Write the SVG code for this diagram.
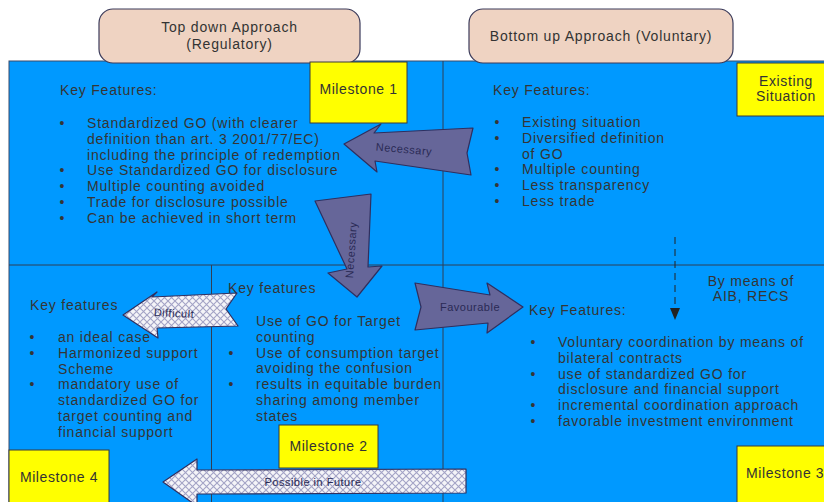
<svg xmlns="http://www.w3.org/2000/svg" width="824" height="502" viewBox="0 0 824 502">
<style>
.t{font-family:"Liberation Sans",Arial,sans-serif;font-size:14px;letter-spacing:0.8px;fill:#353535}
.b{font-family:"Liberation Sans",Arial,sans-serif;font-size:14px;fill:#353535;text-anchor:middle}
.h{font-family:"Liberation Sans",Arial,sans-serif;font-size:14px;letter-spacing:0.8px;fill:#333;text-anchor:middle}
.m{font-family:"Liberation Sans",Arial,sans-serif;font-size:14px;letter-spacing:0.6px;fill:#333;text-anchor:middle}
.ml{font-family:"Liberation Sans",Arial,sans-serif;font-size:14px;letter-spacing:0.6px;fill:#333;text-anchor:start}
.al{font-family:"Liberation Sans",Arial,sans-serif;font-size:11px;letter-spacing:0.5px;fill:#2a2a55;text-anchor:middle}
.ms{fill:#FFFF00;stroke:#3a3a3a;stroke-width:1}
.hd{fill:#EFD3C2;stroke:#3a3a5a;stroke-width:1.2}
.solid{fill:#666699;stroke:#2f2f5f;stroke-width:1.2;stroke-linejoin:round}
.hatch{fill:url(#hp);stroke:#2f2f5f;stroke-width:1.2;stroke-linejoin:round}
.ln{stroke:#2f3f55;stroke-width:1;fill:none}
</style>
<defs>
<pattern id="hp" width="7" height="7" patternUnits="userSpaceOnUse">
<rect width="7" height="7" fill="#f4f4f8"/>
<path d="M0,0 L7,7 M7,0 L0,7" stroke="#a3a3c6" stroke-width="1.1"/>
</pattern>
</defs>

<g id="background">
<rect x="9" y="61" width="830" height="450" fill="#0099FF" stroke="#3a4a6a" stroke-width="1"/>
<line class="ln" x1="9" y1="265" x2="824" y2="265"/>
<line class="ln" x1="443" y1="61" x2="443" y2="502"/>
<line class="ln" x1="211.5" y1="265" x2="211.5" y2="502"/>
</g>

<g id="header-topdown">
<rect class="hd" x="99" y="9" width="261" height="54" rx="14"/>
<text class="h" x="229.5" y="32">Top down Approach</text>
<text class="h" x="229.5" y="49">(Regulatory)</text>
</g>
<g id="header-bottomup">
<rect class="hd" x="469" y="9" width="264" height="54" rx="14"/>
<text class="h" x="601" y="41">Bottom up Approach (Voluntary)</text>
</g>

<g id="panel-milestone1">
<text class="t" x="60" y="95">Key Features:</text>
<text class="b" x="62" y="128">•</text><text class="t" x="87" y="128">Standardized GO (with clearer</text>
<text class="t" x="87" y="143.8">definition than art. 3 2001/77/EC)</text>
<text class="t" x="87" y="159.6">including the principle of redemption</text>
<text class="b" x="62" y="175.4">•</text><text class="t" x="87" y="175.4">Use Standardized GO for disclosure</text>
<text class="b" x="62" y="191.2">•</text><text class="t" x="87" y="191.2">Multiple counting avoided</text>
<text class="b" x="62" y="207">•</text><text class="t" x="87" y="207">Trade for disclosure possible</text>
<text class="b" x="62" y="222.8">•</text><text class="t" x="87" y="222.8">Can be achieved in short term</text>
</g>

<g id="panel-existing">
<text class="t" x="493" y="95">Key Features:</text>
<text class="b" x="497" y="127">•</text><text class="t" x="522" y="127">Existing situation</text>
<text class="b" x="497" y="142.8">•</text><text class="t" x="522" y="142.8">Diversified definition</text>
<text class="t" x="522" y="158.6">of GO</text>
<text class="b" x="497" y="174.4">•</text><text class="t" x="522" y="174.4">Multiple counting</text>
<text class="b" x="497" y="190.2">•</text><text class="t" x="522" y="190.2">Less transparency</text>
<text class="b" x="497" y="206">•</text><text class="t" x="522" y="206">Less trade</text>
</g>

<g id="panel-milestone4">
<text class="t" x="30" y="310">Key features</text>
<text class="b" x="32" y="342">•</text><text class="t" x="58" y="342">an ideal case</text>
<text class="b" x="32" y="357.8">•</text><text class="t" x="58" y="357.8">Harmonized support</text>
<text class="t" x="58" y="373.6">Scheme</text>
<text class="b" x="32" y="389.4">•</text><text class="t" x="58" y="389.4">mandatory use of</text>
<text class="t" x="58" y="405.2">standardized GO for</text>
<text class="t" x="58" y="421">target counting and</text>
<text class="t" x="58" y="436.8">financial support</text>
</g>

<g id="panel-milestone2">
<text class="t" x="228" y="293">Key features</text>
<text class="b" x="231" y="326">•</text><text class="t" x="256" y="326">Use of GO for Target</text>
<text class="t" x="256" y="341.8">counting</text>
<text class="b" x="231" y="357.6">•</text><text class="t" x="256" y="357.6">Use of consumption target</text>
<text class="t" x="256" y="373.4">avoiding the confusion</text>
<text class="b" x="231" y="389.2">•</text><text class="t" x="256" y="389.2">results in equitable burden</text>
<text class="t" x="256" y="405">sharing among member</text>
<text class="t" x="256" y="420.8">states</text>
</g>

<g id="panel-milestone3">
<text class="t" x="529" y="315">Key Features:</text>
<text class="b" x="533" y="347">•</text><text class="t" x="558" y="347">Voluntary coordination by means of</text>
<text class="t" x="558" y="362.8">bilateral contracts</text>
<text class="b" x="533" y="378.6">•</text><text class="t" x="558" y="378.6">use of standardized GO for</text>
<text class="t" x="558" y="394.4">disclosure and financial support</text>
<text class="b" x="533" y="410.2">•</text><text class="t" x="558" y="410.2">incremental coordination approach</text>
<text class="b" x="533" y="426">•</text><text class="t" x="558" y="426">favorable investment environment</text>
</g>

<g id="note-aib">
<text class="t" x="751" y="286" text-anchor="middle">By means of</text>
<text class="t" x="751" y="301" text-anchor="middle">AIB, RECS</text>
</g>

<g id="connectors">
<g id="arrow-necessary-h">
<polygon class="solid" points="344,144 381,124 374,133 473,128 467,153 471,175 375,161 377,172"/>
<text class="al" x="404" y="153" transform="rotate(5 404 149)">Necessary</text>
</g>
<g id="arrow-necessary-v">
<polygon class="solid" points="315,201 371,194 368,267 382,266 357,297 328,273 347,269"/>
<text class="al" x="351" y="254" transform="rotate(-86 351 250)">Necessary</text>
</g>
<g id="arrow-favourable">
<polygon class="solid" points="415,283 490,295 487,283 523,307 487,333 488,323 415,330 421,307"/>
<text class="al" x="470" y="311" fill="#2a2a70">Favourable</text>
</g>
<g id="arrow-difficult">
<polygon class="hatch" points="123,315 157,292 152,297 237,293 226,309 238,326 157,328 158,338"/>
<text class="al" x="174" y="317" font-size="10" transform="rotate(3 174 313)">Difficult</text>
</g>
<g id="arrow-future">
<polygon class="hatch" points="163,482 197,459 197,470 466,469 466,493 197,494 197,506"/>
<text class="al" x="313" y="486">Possible in Future</text>
</g>
<g id="arrow-aib">
<line x1="675" y1="237" x2="675" y2="309" stroke="#222" stroke-width="1" stroke-dasharray="7,5"/>
<polygon points="670,308 680,308 675,320" fill="#222"/>
</g>
</g>

<g id="milestone1">
<rect class="ms" x="310" y="62" width="97" height="61"/>
<text class="m" x="358.5" y="94">Milestone 1</text>
</g>
<g id="existing-situation">
<rect class="ms" x="737" y="63" width="95" height="53"/>
<text class="m" x="786" y="86">Existing</text>
<text class="m" x="786" y="101">Situation</text>
</g>
<g id="milestone2">
<rect class="ms" x="279" y="425" width="99" height="43"/>
<text class="m" x="328.5" y="451">Milestone 2</text>
</g>
<g id="milestone4">
<rect class="ms" x="9" y="450" width="100" height="60"/>
<text class="m" x="59" y="482">Milestone 4</text>
</g>
<g id="milestone3">
<rect class="ms" x="737" y="446" width="100" height="60"/>
<text class="ml" x="746" y="478">Milestone 3</text>
</g>
</svg>
